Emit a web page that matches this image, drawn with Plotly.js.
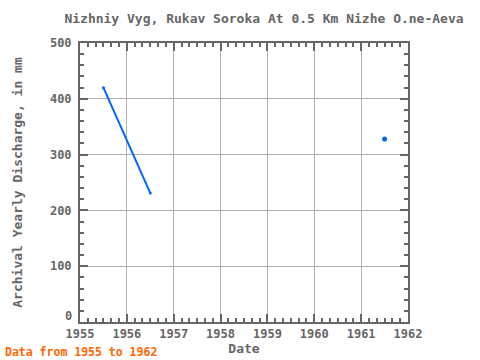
<!DOCTYPE html>
<html><head><meta charset="utf-8">
<script src="https://cdn.plot.ly/plotly-3.0.1.min.js"></script>
<style>body{margin:0;padding:0;background:#fff}#chart{width:480px;height:360px}</style>
</head><body><div id="chart"></div>
<script>
const years1 = [1955.5, 1956.5];
const values1 = [420, 231];
const years2 = [1961.5];
const values2 = [328];
const xTicks = [1955, 1956, 1957, 1958, 1959, 1960, 1961, 1962];
const yTicks = [0, 100, 200, 300, 400, 500];

const font = "'DejaVu Sans Mono', 'Liberation Mono', monospace";
const grey = '#666666';
const traces = [
  {x: years1, y: values1, type: 'scatter', mode: 'lines+markers',
   line: {color: '#0066ff', width: 2}, marker: {color: '#0066ff', size: 3}},
  {x: years2, y: values2, type: 'scatter', mode: 'markers',
   marker: {color: '#0066ff', size: 5}}
];
const axisCommon = {
  showline: true, linecolor: grey, linewidth: 2, mirror: 'allticks',
  ticks: 'inside', ticklen: 8, tickwidth: 2, tickcolor: grey,
  showgrid: true, gridcolor: '#b0b0b0', gridwidth: 1, zeroline: false,
  tickfont: {family: font, size: 12, color: grey, weight: 'bold'}
};
const layout = {
  width: 480, height: 360,
  margin: {l: 80, r: 72, t: 43, b: 38},
  paper_bgcolor: '#ffffff', plot_bgcolor: '#ffffff',
  showlegend: false,
  title: {text: 'Nizhniy Vyg, Rukav Soroka At 0.5 Km Nizhe O.ne-Aeva',
          font: {family: font, size: 13, color: grey, weight: 'bold'}, x: 0.55, xanchor: 'center', y: 0.95, yanchor: 'middle'},
  xaxis: Object.assign({}, axisCommon, {
    range: [1955, 1962], tickvals: xTicks, ticktext: xTicks.map(String),
    minor: {dtick: 1/6, tick0: 1955, ticks: 'inside', ticklen: 4, tickwidth: 2, tickcolor: grey, showgrid: false},
    title: {text: 'Date', font: {family: font, size: 13, color: grey, weight: 'bold'}, standoff: 3}
  }),
  yaxis: Object.assign({}, axisCommon, {
    range: [0, 500], tickvals: yTicks, ticktext: yTicks.map(v => v === 0 ? '' : String(v)),
    ticklabelstandoff: 4,
    minor: {dtick: 20, ticks: 'inside', ticklen: 4, tickwidth: 2, tickcolor: grey, showgrid: false},
    title: {text: 'Archival Yearly Discharge, in mm', font: {family: font, size: 13, color: grey, weight: 'bold'}, standoff: 24}
  }),
  annotations: [{
    text: 'Data from 1955 to 1962', xref: 'paper', yref: 'paper',
    x: -77/328, y: -30/279, xanchor: 'left', yanchor: 'middle', showarrow: false,
    font: {family: font, size: 11.5, color: '#ff6600', weight: 'bold'}
  }, {
    text: String(yTicks[0]), xref: 'paper', yref: 'y', x: 0, y: yTicks[0],
    xanchor: 'right', yanchor: 'middle', xshift: -6, yshift: 6, showarrow: false,
    font: {family: font, size: 12, color: grey, weight: 'bold'}
  }]
};
Plotly.newPlot('chart', traces, layout, {displayModeBar: false, staticPlot: true});
</script></body></html>
